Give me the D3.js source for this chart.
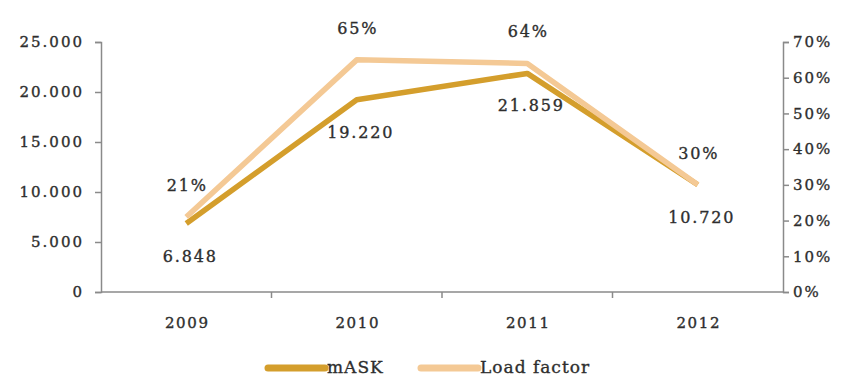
<!DOCTYPE html>
<html>
<head>
<meta charset="utf-8">
<script src="https://cdn.jsdelivr.net/npm/d3@7"></script>
<style>
  html, body { margin: 0; padding: 0; background: #fff; }
  svg text { font-family: "DejaVu Serif", "Liberation Serif", serif; fill: #2e2e2e; stroke: #2e2e2e; stroke-width: 0.35px; }
</style>
</head>
<body>
<svg id="chart" width="851" height="381"></svg>
<script>
// Yearly series
const years = ["2009", "2010", "2011", "2012"];
const mask = [6848, 19220, 21859, 10720];
const loadFactor = [21, 65, 64, 30];
const leftTicks = [0, 5000, 10000, 15000, 20000, 25000];
const rightTicks = [0, 10, 20, 30, 40, 50, 60, 70];
const seriesNames = ["mASK", "Load factor"];
const seriesColors = ["#d49e2c", "#f4c995"];

const svg = d3.select("#chart");
const margin = { left: 101, right: 68, top: 42, bottom: 89 };
const W = 851, H = 381;
const plotW = W - margin.left - margin.right;
const plotH = H - margin.top - margin.bottom;

const x = d3.scaleBand().domain(years).range([0, plotW]);
const yL = d3.scaleLinear().domain([0, 25000]).range([plotH, 0]);
const yR = d3.scaleLinear().domain([0, 70]).range([plotH, 0]);

const fmtK = d => d3.format(",")(d).replace(/,/g, ".");
const g = svg.append("g").attr("transform", `translate(${margin.left},${margin.top})`);

const axisColor = "#8a8a8a";
const styleAxis = sel => {
  sel.select(".domain").attr("stroke", axisColor).attr("stroke-width", 1.5);
  sel.selectAll(".tick line").attr("stroke", axisColor).attr("stroke-width", 1.5);
  sel.selectAll("text").style("font-size", "15px").style("letter-spacing", "2px");
};

// Left axis (mASK)
g.append("g")
  .call(d3.axisLeft(yL).tickValues(leftTicks).tickFormat(fmtK).tickSize(6).tickSizeOuter(6).tickPadding(11))
  .call(styleAxis);

// Right axis (load factor)
g.append("g")
  .attr("transform", `translate(${plotW},0)`)
  .call(d3.axisRight(yR).tickValues(rightTicks).tickFormat(d => d + "%").tickSize(6).tickSizeOuter(6).tickPadding(4))
  .call(styleAxis);

// Category axis with ticks at band boundaries
const xAxis = g.append("g").attr("transform", `translate(0,${plotH})`);
xAxis.append("line").attr("x1", 0).attr("x2", plotW).attr("stroke", axisColor).attr("stroke-width", 1.5);
xAxis.selectAll("line.tk").data(years.slice(1)).join("line")
  .attr("class", "tk")
  .attr("x1", d => x(d)).attr("x2", d => x(d))
  .attr("y1", 0).attr("y2", 6)
  .attr("stroke", axisColor).attr("stroke-width", 1.5);
xAxis.selectAll("text").data(years).join("text")
  .attr("x", d => x(d) + x.bandwidth() / 2 + 1)
  .attr("y", 36)
  .attr("text-anchor", "middle")
  .style("font-size", "15px")
  .style("letter-spacing", "1.6px")
  .text(d => d);

const cx = d => x(d) + x.bandwidth() / 2;

// mASK line
g.append("path")
  .datum(mask)
  .attr("fill", "none")
  .attr("stroke", seriesColors[0])
  .attr("stroke-width", 5.5)
  .attr("stroke-linejoin", "round")
  .attr("d", d3.line().x((d, i) => cx(years[i])).y(d => yL(d)));

// Load factor line
g.append("path")
  .datum(loadFactor)
  .attr("fill", "none")
  .attr("stroke", seriesColors[1])
  .attr("stroke-width", 5.5)
  .attr("stroke-linejoin", "round")
  .attr("d", d3.line().x((d, i) => cx(years[i])).y(d => yR(d)));

// Value labels
g.selectAll("text.lf").data(loadFactor).join("text")
  .attr("class", "lf")
  .attr("x", (d, i) => cx(years[i]) + 1)
  .attr("y", d => yR(d) - 26)
  .attr("text-anchor", "middle")
  .style("font-size", "16px")
  .style("letter-spacing", "1.8px")
  .text(d => d + "%");

g.selectAll("text.mk").data(mask).join("text")
  .attr("class", "mk")
  .attr("x", (d, i) => cx(years[i]) + 4)
  .attr("y", d => yL(d) + 38)
  .attr("text-anchor", "middle")
  .style("font-size", "16px")
  .style("letter-spacing", "1.8px")
  .text(d => fmtK(d));

// Legend
const legend = svg.append("g").attr("transform", "translate(268,368)");
const legendX = [0, 153];
seriesNames.forEach((name, i) => {
  const lg = legend.append("g").attr("transform", `translate(${legendX[i]},0)`);
  lg.append("line").attr("x1", 0).attr("x2", 57).attr("y1", 0).attr("y2", 0)
    .attr("stroke", seriesColors[i]).attr("stroke-width", 7).attr("stroke-linecap", "round");
  lg.append("text").attr("x", 59).attr("y", 5)
    .style("font-size", "17px").style("letter-spacing", "1px").text(name);
});
</script>
</body>
</html>
